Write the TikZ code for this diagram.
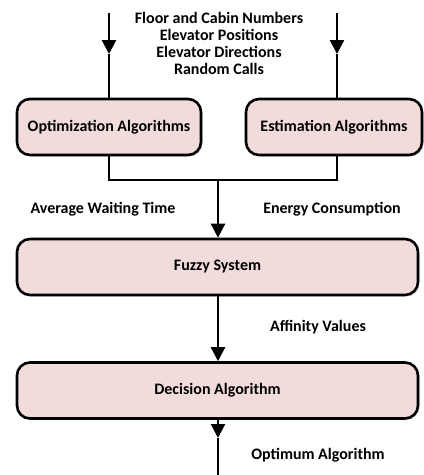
\documentclass[tikz,border=0pt]{standalone}
\usepackage{fontspec}
\setmainfont{Carlito}
\usetikzlibrary{arrows.meta,shadows}
\definecolor{boxfill}{HTML}{F2DCDB}
\tikzset{
  blk/.style={draw=black, line width=2.6pt, rounded corners=13pt, fill=boxfill,
    minimum height=56pt, inner sep=0pt, font=\fontsize{16}{17}\selectfont\bfseries,
    drop shadow={opacity=0.3, shadow xshift=1.5pt, shadow yshift=-1.5pt}},
  lbl/.style={font=\fontsize{16}{17}\selectfont\bfseries, inner sep=0pt, align=center},
  conn/.style={line width=2.4pt},
  arr/.style={line width=2.4pt, -{Triangle[width=14pt,length=14pt]}}
}
\begin{document}
\begin{tikzpicture}[x=1pt,y=-1pt]
\useasboundingbox (0,0) rectangle (424,475);
\node[blk, minimum width=184pt] (opt) at (109,127) {Optimization Algorithms};
\node[blk, minimum width=176pt] (est) at (334,127) {Estimation Algorithms};
\node[blk, minimum width=401pt] (fuz) at (217.5,267) {Fuzzy System};
\node[blk, minimum width=401pt] (dec) at (217.5,390.5) {Decision Algorithm};

\node[lbl] (inputs) at (219,43) {Floor and Cabin Numbers\\Elevator Positions\\Elevator Directions\\Random Calls};
\node[lbl] (awt) at (103,209) {Average Waiting Time};
\node[lbl] (ec) at (332,209) {Energy Consumption};
\node[lbl] (aff) at (318,327) {Affinity Values};
\node[lbl] (opta) at (318,455) {Optimum Algorithm};

\coordinate (l0) at (109,13);
\coordinate (l1) at (109,54);
\coordinate (r0) at (337,13);
\coordinate (r1) at (337,54);
\coordinate (jl) at (109,180);
\coordinate (jr) at (337,180);
\coordinate (jm) at (218,180);
\coordinate (out1) at (218,438);
\coordinate (out2) at (218,475);

\draw[arr] (l0) -- (l1);
\draw[conn] (l1) -- (opt.north -| l1);
\draw[arr] (r0) -- (r1);
\draw[conn] (r1) -- (est.north -| r1);
\draw[conn] (opt.south -| jl) -- (jl) -- (jr) -- (est.south -| jr);
\draw[arr] (jm) -- (fuz.north -| jm);
\draw[arr] (fuz.south -| jm) -- (dec.north -| jm);
\draw[arr] (dec.south -| out1) -- (out1);
\draw[conn] (out1) -- (out2);
\end{tikzpicture}
\end{document}
